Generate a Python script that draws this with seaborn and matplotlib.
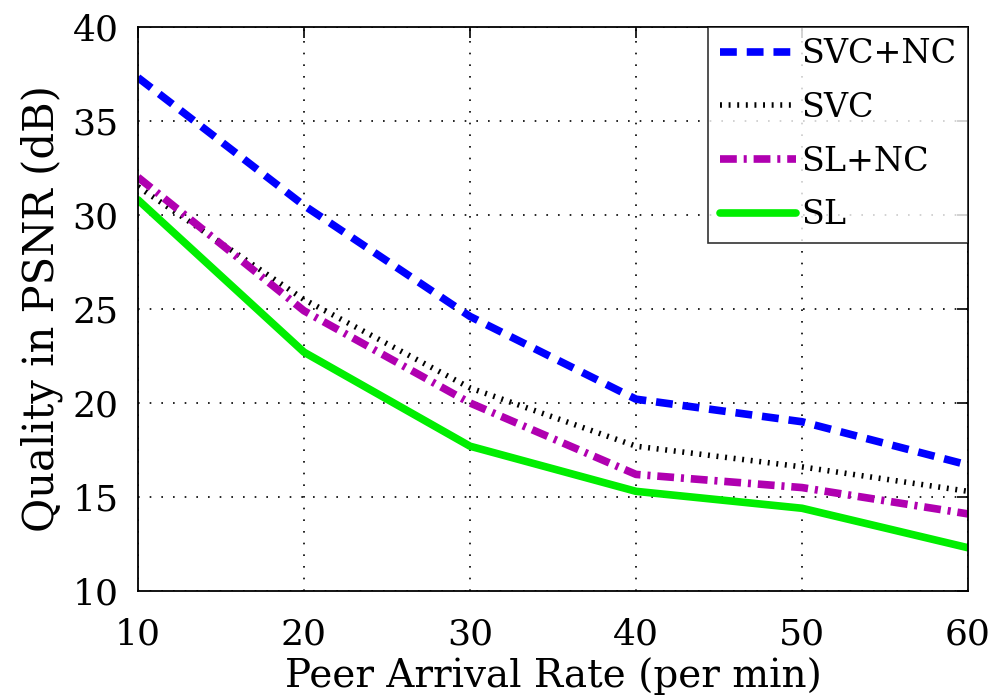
import matplotlib
matplotlib.use("Agg")
import matplotlib.pyplot as plt
import seaborn as sns
import pandas as pd

# dados
arrival_rate = [10, 20, 30, 40, 50, 60]
svc_nc = [37.3, 30.5, 24.6, 20.2, 19.0, 16.7]
svc = [31.5, 25.5, 20.8, 17.7, 16.6, 15.3]
sl_nc = [32.0, 24.9, 20.0, 16.2, 15.5, 14.1]
sl = [30.8, 22.7, 17.7, 15.3, 14.4, 12.3]

series = ["SVC+NC", "SVC", "SL+NC", "SL"]
valores = [svc_nc, svc, sl_nc, sl]

sns.set_theme(style="white")
plt.rcParams['font.family'] = ['DejaVu Serif']

df = pd.DataFrame({
    "rate": arrival_rate * len(series),
    "psnr": [v for vals in valores for v in vals],
    "scheme": [s for s in series for _ in arrival_rate],
})

estilos = {
    "SVC+NC": dict(color="#0000ff", linestyle=(0, (2.2, 1.3)), linewidth=5.5),
    "SVC": dict(color="black", linestyle=(0, (0.35, 1.2)), linewidth=4.0),
    "SL+NC": dict(color="#b000b0", linestyle=(0, (2.2, 0.9, 0.4, 0.9)), linewidth=5.5),
    "SL": dict(color="#00ee00", linestyle="-", linewidth=5.5),
}

fig = plt.figure(figsize=(10.05, 7), dpi=100)
ax = fig.add_axes([0.1373, 0.1557, 0.8259, 0.806])

for nome in series:
    sub = df[df["scheme"] == nome]
    st = estilos[nome]
    sns.lineplot(data=sub, x="rate", y="psnr", ax=ax, label=nome,
                 color=st["color"], linewidth=st["linewidth"])
    ax.lines[-1].set_linestyle(st["linestyle"])

ax.set_xlim(10, 60)
ax.set_ylim(10, 40)
ax.set_xticks(arrival_rate)
ax.set_yticks([10, 15, 20, 25, 30, 35, 40])
ax.grid(True, linestyle=(0, (1, 6)), color="black", linewidth=1.2)
ax.tick_params(axis="both", direction="in", length=8, width=1.2,
               top=True, right=True, labelsize=26, colors="black")
ax.tick_params(axis="x", pad=19)
ax.tick_params(axis="y", pad=14)
for sp in ax.spines.values():
    sp.set_color("black")
    sp.set_linewidth(1.3)

ax.set_xlabel("Peer Arrival Rate (per min)", fontsize=28, labelpad=4, color="black")
ax.set_ylabel("Quality in PSNR (dB)", fontsize=30, color="black")
ax.yaxis.set_label_coords(-0.090, 0.5)

leg = ax.legend(loc="upper right", fontsize=24, frameon=True, fancybox=False,
                edgecolor="black", handlelength=2.3, handletextpad=0.15,
                borderaxespad=0.0, borderpad=0.35, labelspacing=0.65)
leg.get_frame().set_linewidth(1.2)
for t in leg.get_texts():
    t.set_color("black")

plt.savefig("out.png", dpi=100, facecolor="white")
plt.close()
